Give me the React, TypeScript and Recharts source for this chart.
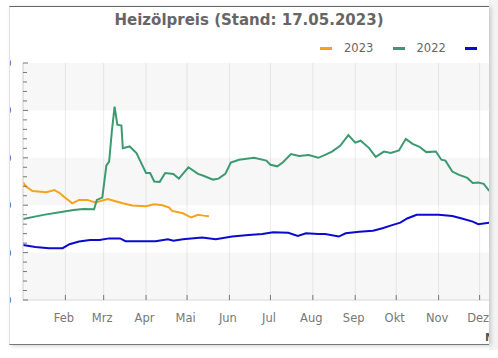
import { LineChart, Line, XAxis, YAxis, CartesianGrid, ReferenceArea } from "recharts"

// day of year / price in EUR per 100 l
const days2023 = [0, 2, 7, 17, 23, 27, 30, 36, 41, 47, 53, 62, 67, 73, 80, 90, 96, 102, 107, 109, 117, 123, 128, 132, 136]
const price2023 = [124, 120, 115, 113.7, 116, 112.6, 109, 102, 105.6, 105.6, 103, 106.6, 104.5, 102, 99.6, 99, 101, 100, 97.5, 94, 91.5, 87, 89.8, 89, 88.4]

const days2022 = [
  0, 15, 29, 37, 44, 52, 54, 58, 61, 63, 65, 67, 69, 72, 73, 78, 83, 86, 90, 93, 96, 100, 104, 110, 114, 121, 128, 132, 139,
  143, 148, 152, 158, 169, 178, 181, 186, 190, 196, 202, 209, 216, 221, 226, 232, 238, 243, 247, 253, 258, 264, 269, 275,
  280, 285, 290, 295, 302, 306, 309, 314, 319, 325, 329, 333, 337, 341,
]
const price2022 = [
  85.5, 89.8, 93, 95, 96, 95.7, 105.6, 108, 142, 146, 178, 204, 185, 184, 160, 162, 155, 146, 134, 134, 125, 124.6, 134, 133,
  128, 140, 133, 131, 127, 128, 133, 145, 148, 150, 147, 142.6, 141, 145, 154, 152, 153, 150, 153, 156.6, 162.6, 174, 166,
  168, 160.5, 151, 156.6, 155, 157.7, 170, 164.7, 161.6, 156, 156.6, 148, 147, 135.5, 132, 128.8, 123.5, 124, 122.5, 115,
]

const days2021 = [
  0, 9, 19, 29, 34, 41, 49, 56, 63, 71, 75, 83, 90, 97, 106, 110, 117, 131, 141, 153, 165, 175, 183, 194, 201, 207, 216,
  221, 231, 236, 246, 256, 263, 270, 276, 281, 288, 295, 304, 314, 321, 329, 333, 341,
]
const price2021 = [
  58, 56, 54.6, 54.6, 58.8, 61.6, 63.4, 63.4, 65, 65, 62, 62, 62, 62, 64, 62.6, 64, 66, 64, 66.9, 68.6, 69.7, 71.5, 71, 67.6,
  70.4, 69.7, 69.7, 66.9, 70.4, 72, 73, 75.7, 79, 81.6, 86, 89.8, 89.8, 89.8, 88.7, 86, 82.7, 80, 81.6,
]

const monthStarts = [31, 59, 90, 120, 151, 181, 212, 243, 273, 304, 334]
const monthLabels = ["Feb", "Mrz", "Apr", "Mai", "Jun", "Jul", "Aug", "Sep", "Okt", "Nov", "Dez"]
const yTicks = Array.from({ length: 26 }, (_, i) => i * 10)
const bands = [[200, 250], [100, 150], [0, 50]]

const toPoints = (days: number[], vals: number[]) => days.map((d, i) => ({ d, v: vals[i] }))

const series = [
  { name: "2023", color: "#f5a31a", data: toPoints(days2023, price2023) },
  { name: "2022", color: "#3d9970", data: toPoints(days2022, price2022) },
  { name: "2021", color: "#0b0bd0", data: toPoints(days2021, price2021) },
]

const FONT = "'DejaVu Sans', Verdana, sans-serif"
const PLOT_LEFT = 13

function YTick({ y, payload }: any) {
  const major = payload.value % 50 === 0
  return (
    <g>
      <line x1={PLOT_LEFT} x2={PLOT_LEFT + (major ? 5 : 4)} y1={y} y2={y} stroke="#777" />
      {major && (
        <text x={1.5} y={y + 4} textAnchor="end" fontSize={11} fill="#555" fontFamily={FONT}>
          {payload.value}
        </text>
      )}
    </g>
  )
}

function XTick({ x, y, payload }: any) {
  const idx = monthStarts.indexOf(payload.value)
  return (
    <g>
      <line x1={x} x2={x} y1={y - 5} y2={y} stroke="#777" />
      <text x={x - 1.5} y={y + 22} textAnchor="middle" fontSize={11.5} fill="#777" fontFamily={FONT}>
        {monthLabels[idx]}
      </text>
    </g>
  )
}

function LegendBox() {
  return (
    <div style={{ position: "absolute", top: 34, left: 0, width: 530, height: 16, fontFamily: FONT, fontSize: 11.5, color: "#666" }}>
      {series.map((s, i) => (
        <div key={s.name} style={{ position: "absolute", left: 310 + i * 72.5, top: 0, display: "flex", alignItems: "center", whiteSpace: "nowrap" }}>
          <span style={{ display: "inline-block", width: 12, height: 3, background: s.color }} />
          <span style={{ marginLeft: 12 }}>{s.name}</span>
        </div>
      ))}
    </div>
  )
}

export default function App() {
  return (
    <div style={{ position: "relative", width: 498, height: 358, background: "#fff", overflow: "hidden" }}>
      <style>{"body{margin:0}"}</style>
      <div style={{ position: "absolute", left: 489, top: 0, width: 9, height: 350, background: "#f3f3f3" }} />
      <div
        style={{
          position: "absolute",
          left: 9,
          top: 6,
          width: 480,
          height: 339,
          overflow: "hidden",
          background: "#fff",
          borderTop: "1px solid #666",
          borderBottom: "1px solid #777",
          borderLeft: "1px solid #e2e2e2",
          boxShadow: "2px 1px 4px rgba(0,0,0,0.18)",
          boxSizing: "border-box",
        }}
      >
        <div
          style={{
            position: "absolute",
            top: 4,
            left: 0,
            width: 478,
            textAlign: "center",
            fontFamily: FONT,
            fontWeight: "bold",
            fontSize: 15,
            color: "#666",
          }}
        >
          Heizölpreis (Stand: 17.05.2023)
        </div>
        <LegendBox />
        <div style={{ position: "absolute", left: 475, top: 324, fontFamily: FONT, fontWeight: "bold", fontSize: 11, color: "#555" }}>
          Mehr
        </div>
        <LineChart width={530} height={338} margin={{ top: 56, right: 18, left: 0, bottom: 0 }}>
          {bands.map(([a, b]) => (
            <ReferenceArea key={a} y1={a} y2={b} fill="#000" fillOpacity={0.03} stroke="none" ifOverflow="hidden" />
          ))}
          <CartesianGrid horizontal={false} stroke="#ececec" />
          <XAxis
            type="number"
            dataKey="d"
            domain={[0, 365]}
            ticks={monthStarts}
            interval={0}
            height={45}
            tickSize={0}
            tickMargin={0}
            tickLine={false}
            axisLine={{ stroke: "#d8d8d8" }}
            tick={<XTick />}
            allowDataOverflow
          />
          <YAxis
            type="number"
            domain={[0, 250]}
            ticks={yTicks}
            interval={0}
            width={PLOT_LEFT}
            tickSize={0}
            tickMargin={0}
            tickLine={false}
            axisLine={{ stroke: "#d8d8d8" }}
            tick={<YTick />}
            allowDataOverflow
          />
          {series.map((s) => (
            <Line
              key={s.name}
              data={s.data}
              dataKey="v"
              name={s.name}
              type="linear"
              stroke={s.color}
              strokeWidth={2}
              dot={false}
              activeDot={false}
              isAnimationActive={false}
            />
          ))}
        </LineChart>
      </div>
    </div>
  )
}
